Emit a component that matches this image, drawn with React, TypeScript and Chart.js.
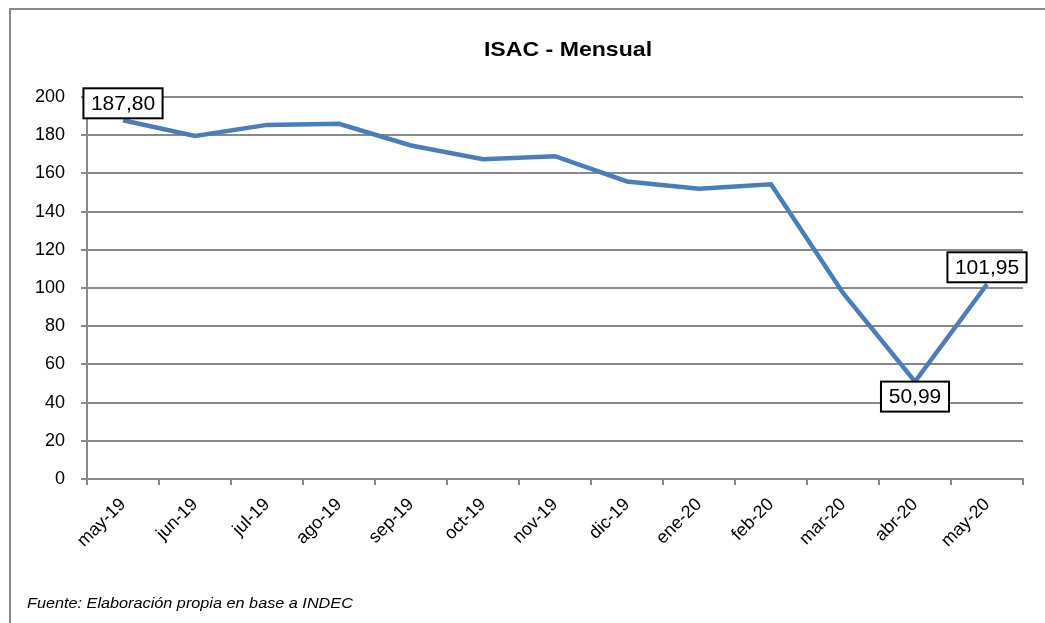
import React, { useEffect, useRef } from "react";
import { Chart, registerables } from "chart.js";

Chart.register(...registerables);

const categories = ["may-19", "jun-19", "jul-19", "ago-19", "sep-19", "oct-19", "nov-19", "dic-19", "ene-20", "feb-20", "mar-20", "abr-20", "may-20"];
const isacValues = [187.8, 179.6, 185.4, 186.0, 174.6, 167.4, 169.0, 155.8, 152.0, 154.3, 97.4, 50.99, 101.95];
const labelIndices = [0, 11, 12];
const labelPlacement = ["above", "below", "above"];
const yTicks = { min: 0, max: 200, step: 20 };
const titleText = "ISAC - Mensual";
const footerText = "Fuente: Elaboración propia en base a INDEC";

const FONT = "'Liberation Sans', Arial, sans-serif";
const GRID = "#8a8a8a";

const fmt = (v: number) => v.toFixed(2).replace(".", ",");

const boxLabels = {
  id: "boxLabels",
  afterDatasetsDraw(chart: any) {
    const ctx = chart.ctx;
    const meta = chart.getDatasetMeta(0);
    ctx.save();
    ctx.font = `20px ${FONT}`;
    ctx.textAlign = "center";
    ctx.textBaseline = "middle";
    labelIndices.forEach((idx, k) => {
      const pt = meta.data[idx];
      const text = fmt(isacValues[idx]);
      const tw = ctx.measureText(text).width;
      const w = tw + 18;
      const h = 30;
      const cx = pt.x;
      const top = labelPlacement[k] === "above" ? pt.y - 2 - h : pt.y;
      ctx.fillStyle = "#ffffff";
      ctx.fillRect(cx - w / 2, top, w, h);
      ctx.strokeStyle = "#000000";
      ctx.lineWidth = 2;
      ctx.strokeRect(cx - w / 2, top, w, h);
      ctx.fillStyle = "#000000";
      ctx.save();
      ctx.translate(cx, top + h / 2 + 1);
      ctx.scale(1.05, 1);
      ctx.fillText(text, 0, 0);
      ctx.restore();
    });
    ctx.restore();
  },
};

export default function App() {
  const ref = useRef<HTMLCanvasElement | null>(null);
  useEffect(() => {
    if (!ref.current) return;
    const chart = new Chart(ref.current, {
      type: "line",
      data: {
        labels: categories,
        datasets: [
          {
            data: isacValues,
            borderColor: "#4a7ebb",
            borderWidth: 4.5,
            pointRadius: 0,
            tension: 0,
            fill: false,
          },
        ],
      },
      options: {
        animation: false,
        responsive: false,
        devicePixelRatio: 1,
        layout: { padding: { left: 0, right: 22, top: 97, bottom: 0 } },
        plugins: {
          legend: { display: false },
          title: { display: false },
          tooltip: { enabled: false },
        },
        scales: {
          x: {
            type: "category",
            offset: true,
            grid: {
              offset: true,
              drawOnChartArea: false,
              drawTicks: true,
              tickLength: 6,
              color: GRID,
              lineWidth: 2,
            },
            border: { color: GRID, width: 2 },
            ticks: {
              maxRotation: 45,
              minRotation: 45,
              padding: 9,
              color: "#000",
              font: { family: FONT, size: 18 },
              autoSkip: false,
            },
            afterFit: (s: any) => {
              s.height = 144;
            },
          },
          y: {
            min: yTicks.min,
            max: yTicks.max,
            grid: {
              color: GRID,
              lineWidth: 2,
              tickLength: 6,
              drawTicks: true,
            },
            border: { color: GRID, width: 2 },
            ticks: {
              stepSize: yTicks.step,
              padding: 16,
              color: "#000",
              font: { family: FONT, size: 18 },
            },
            afterFit: (s: any) => {
              s.width = 87;
            },
          },
        },
      },
      plugins: [boxLabels],
    } as any);
    return () => chart.destroy();
  }, []);

  return (
    <div style={{ position: "fixed", left: 0, top: 0, width: 1045, height: 623, background: "#fff", overflow: "hidden" }}>
      <div
        style={{
          position: "absolute",
          left: 9,
          top: 8,
          width: 1100,
          height: 700,
          borderLeft: "2px solid #8a8a8a",
          borderTop: "2px solid #8a8a8a",
        }}
      />
      <canvas ref={ref} width={1045} height={623} style={{ position: "absolute", left: 0, top: 0 }} />
      <div
        style={{
          position: "absolute",
          left: 368,
          top: 37,
          width: 400,
          textAlign: "center",
          fontFamily: FONT,
          fontWeight: "bold",
          fontSize: 21,
          color: "#000",
          whiteSpace: "pre",
          transform: "scaleX(1.1)",
          transformOrigin: "center",
        }}
      >
        {titleText}
      </div>
      <div
        style={{
          position: "absolute",
          left: 27,
          top: 595,
          fontFamily: FONT,
          fontStyle: "italic",
          fontSize: 14,
          color: "#000",
          whiteSpace: "pre",
          transform: "scaleX(1.16)",
          transformOrigin: "left",
        }}
      >
        {footerText}
      </div>
    </div>
  );
}
